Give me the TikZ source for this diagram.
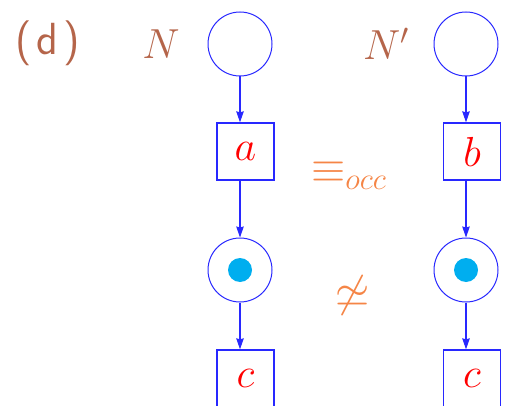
\documentclass[tikz,border=0pt]{standalone}
\usepackage{fix-cm}
\usepackage{fontspec}
\usetikzlibrary{arrows.meta}
\definecolor{netblue}{RGB}{40,40,255}
\definecolor{brownlab}{RGB}{181,101,74}
\definecolor{orangelab}{RGB}{245,133,70}
\definecolor{tokencyan}{RGB}{0,174,239}
\tikzset{
  place/.style={circle,draw=netblue,line width=1.0pt,minimum size=64pt,inner sep=0pt},
  trans/.style={rectangle,draw=netblue,line width=1.3pt,minimum size=57pt,inner sep=0pt,text=red,font=\fontsize{42}{48}\selectfont},
  arc/.style={draw=netblue,line width=1.1pt,-{Stealth[length=11pt,width=7.5pt,inset=1pt]}},
  tok/.style={circle,fill=tokencyan,minimum size=24pt,inner sep=0pt},
  lab/.style={text=brownlab,font=\fontsize{42}{48}\selectfont,inner sep=0pt},
  rel/.style={text=orangelab,font=\fontsize{44}{50}\selectfont,inner sep=0pt}
}
\begin{document}
\begin{tikzpicture}[x=1pt,y=1pt]
\useasboundingbox (0,0) rectangle (508,405);
% left net
\node[place] (p1) at (240,361) {};
\node[trans] (a) at (245.5,253.5) {$a$};
\node[place] (p2) at (240,135) {};
\node[tok] (k1) at (p2.center) {};
\node[trans] (c1) at (245.5,26.5) {$c$};
% right net
\node[place] (q1) at (466,361) {};
\node[trans] (b) at (472,253.5) {$b$};
\node[place] (q2) at (466,135) {};
\node[tok] (k2) at (q2.center) {};
\node[trans] (c2) at (472,26.5) {$c$};
% arcs
\draw[arc] (p1.south) -- (p1.south |- a.north);
\draw[arc] (p1.south |- a.south) -- (p2.north);
\draw[arc] (p2.south) -- (p2.south |- c1.north);
\draw[arc] (q1.south) -- (q1.south |- b.north);
\draw[arc] (q1.south |- b.south) -- (q2.north);
\draw[arc] (q2.south) -- (q2.south |- c2.north);
% labels
\node[lab,font=\fontsize{45}{50}\sffamily] (d) at (47.5,361.5) {(\hspace{5pt}d\hspace{5pt})};
\node[lab] (N) at (161,361) {$N$};
\node[lab,anchor=west] (Np) at (363,361) {$N'$};
\node[rel,anchor=west] (occ) at (311,229) {$\equiv_{occ}$};
\node[rel] (ns) at (353,110) {$\not\simeq$};
\end{tikzpicture}
\end{document}
